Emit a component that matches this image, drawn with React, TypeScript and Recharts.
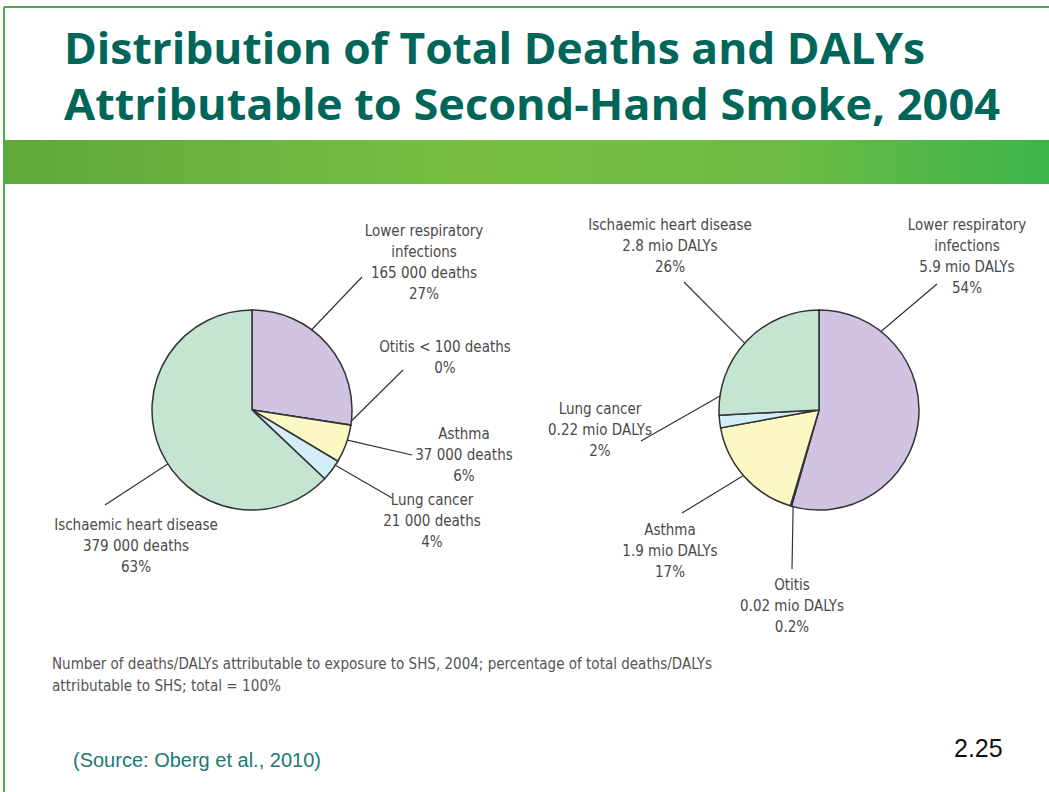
import { PieChart, Pie, Cell } from "recharts";

// data
const categories = [
  "Lower respiratory infections",
  "Otitis",
  "Asthma",
  "Lung cancer",
  "Ischaemic heart disease"
];
const deaths = [165000, 90, 37000, 21000, 379000];
const dalys = [5.9, 0.02, 1.9, 0.22, 2.8];
const deathText = ["165 000 deaths", "< 100 deaths", "37 000 deaths", "21 000 deaths", "379 000 deaths"];
const dalyText = ["5.9 mio DALYs", "0.02 mio DALYs", "1.9 mio DALYs", "0.22 mio DALYs", "2.8 mio DALYs"];
const deathPct = ["27%", "0%", "6%", "4%", "63%"];
const dalyPct = ["54%", "0.2%", "17%", "2%", "26%"];
const colors = ["#d1c3e2", "#e8e0ee", "#fbf8c3", "#d3eef8", "#c3e5d2"];

const deathsData = categories.map((name, i) => ({ name, value: deaths[i] }));
const dalysData = categories.map((name, i) => ({ name, value: dalys[i] }));

const nameLines = (n: string) =>
  n === "Lower respiratory infections" ? ["Lower respiratory", "infections"] : [n];

const deathLines = categories.map((n, i) =>
  n === "Otitis" ? [`Otitis ${deathText[i]}`, deathPct[i]] : [...nameLines(n), deathText[i], deathPct[i]]
);
const dalyLines = categories.map((n, i) => [...nameLines(n), dalyText[i], dalyPct[i]]);

// label placement, relative to pie centre (angle = where leader line meets the rim)
const leftLayout = [
  { angle: 53.4, ex: 110, ey: -133, tx: 172, ty: -174 },
  { angle: -6.3, ex: 151, ey: -40, tx: 193, ty: -58 },
  { angle: -17.5, ex: 160, ey: 45, tx: 212, ty: 29 },
  { angle: -33.5, ex: 140, ey: 88, tx: 180, ty: 95 },
  { angle: 212.6, ex: -147, ey: 95, tx: -116, ty: 120 }
];
const rightLayout = [
  { angle: 51.7, ex: 118, ey: -126, tx: 148, ty: -180 },
  { angle: 255, ex: -27, ey: 159, tx: -27, ty: 180 },
  { angle: 221, ex: -137, ey: 103, tx: -149, ty: 125 },
  { angle: 172, ex: -178, ey: 31, tx: -219, ty: 4 },
  { angle: 138, ex: -135, ey: -128, tx: -149, ty: -180 }
];

const labelFont = "'Liberation Sans Narrow', 'DejaVu Sans Condensed', Roboto, sans-serif";

const makeLabel = (layout: any[], lines: string[][]) => (props: any) => {
  const { cx, cy, outerRadius, index } = props;
  const L = layout[index];
  const a = (L.angle * Math.PI) / 180;
  const x1 = cx + outerRadius * Math.cos(a);
  const y1 = cy - outerRadius * Math.sin(a);
  const tx = cx + L.tx;
  return (
    <g key={"lbl" + index}>
      <line x1={x1} y1={y1} x2={cx + L.ex} y2={cy + L.ey} stroke="#333" strokeWidth={1.2} />
      <text
        x={tx}
        y={cy + L.ty}
        textAnchor="middle"
        fill="#4a4a4a"
        fontSize={15}
        fontFamily={labelFont}
      >
        {lines[index].map((s, i) => (
          <tspan key={i} x={tx} dy={i === 0 ? 0 : 21}>
            {s}
          </tspan>
        ))}
      </text>
    </g>
  );
};

function App() {
  return (
    <div style={{ position: "absolute", left: 0, top: 0, width: 1049, height: 792, background: "#fff", overflow: "hidden" }}>
      <svg width={1049} height={792} style={{ position: "absolute", left: 0, top: 0 }}>
        <defs>
          <linearGradient id="band" x1="0" y1="0" x2="1" y2="0">
            <stop offset="0%" stopColor="#5ea83d" />
            <stop offset="45%" stopColor="#7abf44" />
            <stop offset="75%" stopColor="#6cbb45" />
            <stop offset="100%" stopColor="#3cb44b" />
          </linearGradient>
        </defs>
        <line x1={4} y1={7} x2={1049} y2={7} stroke="#4fa94d" strokeWidth={2} />
        <line x1={4} y1={7} x2={4} y2={792} stroke="#4fa94d" strokeWidth={2} />
        <rect x={5} y={140} width={1044} height={44} fill="url(#band)" />
        <text x={64} y={64} fill="#00665a" fontSize={43} fontWeight="bold" fontFamily="'Open Sans', sans-serif" textLength={861} lengthAdjust="spacingAndGlyphs">
          Distribution of Total Deaths and DALYs
        </text>
        <text x={64} y={120} fill="#00665a" fontSize={43} fontWeight="bold" fontFamily="'Open Sans', sans-serif" textLength={936} lengthAdjust="spacingAndGlyphs">
          Attributable to Second-Hand Smoke, 2004
        </text>
        <text x={52} y={669} fill="#555" fontSize={15} fontFamily={labelFont} textLength={660} lengthAdjust="spacingAndGlyphs">
          Number of deaths/DALYs attributable to exposure to SHS, 2004; percentage of total deaths/DALYs
        </text>
        <text x={52} y={691} fill="#555" fontSize={15} fontFamily={labelFont} textLength={229} lengthAdjust="spacingAndGlyphs">
          attributable to SHS; total = 100%
        </text>
        <text x={73} y={767} fill="#1b7a72" fontSize={20} fontFamily="'Liberation Sans', Arial, sans-serif">
          (Source: Oberg et al., 2010)
        </text>
        <text x={954} y={757} fill="#111" fontSize={25} fontFamily="'Liberation Sans', Arial, sans-serif">
          2.25
        </text>
      </svg>
      <div style={{ position: "absolute", left: 0, top: 0 }}>
        <PieChart width={1049} height={792} margin={{ top: 0, right: 0, bottom: 0, left: 0 }}>
          <Pie
            data={deathsData}
            dataKey="value"
            nameKey="name"
            cx={252}
            cy={410}
            outerRadius={100}
            startAngle={90}
            endAngle={-270}
            stroke="#333"
            strokeWidth={1.5}
            label={makeLabel(leftLayout, deathLines)}
            labelLine={false}
            isAnimationActive={false}
          >
            {deathsData.map((d, i) => (
              <Cell key={d.name} fill={colors[i]} />
            ))}
          </Pie>
          <Pie
            data={dalysData}
            dataKey="value"
            nameKey="name"
            cx={819}
            cy={410}
            outerRadius={100}
            startAngle={90}
            endAngle={-270}
            stroke="#333"
            strokeWidth={1.5}
            label={makeLabel(rightLayout, dalyLines)}
            labelLine={false}
            isAnimationActive={false}
          >
            {dalysData.map((d, i) => (
              <Cell key={d.name} fill={colors[i]} />
            ))}
          </Pie>
        </PieChart>
      </div>
    </div>
  );
}

export default App;
